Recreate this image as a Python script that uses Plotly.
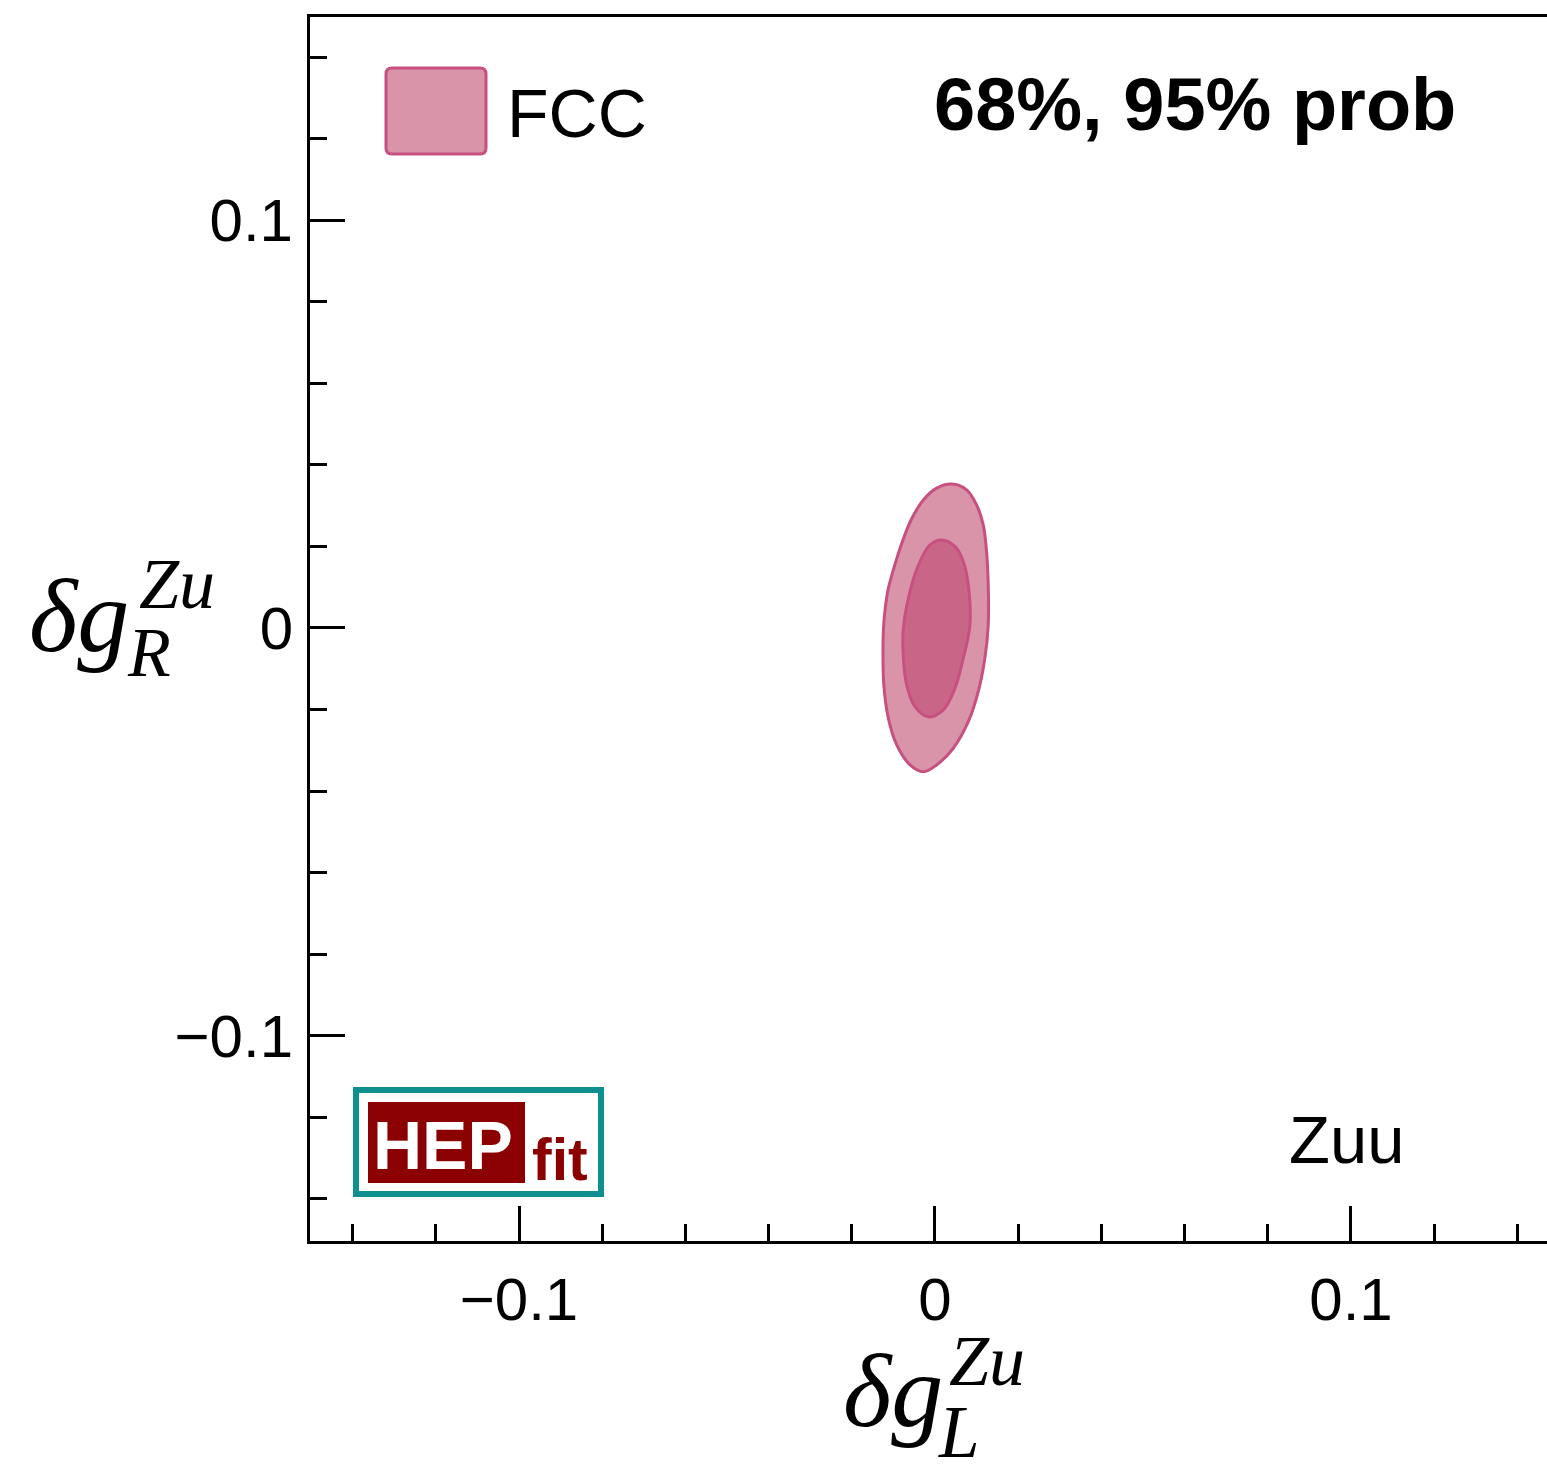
import plotly.graph_objects as go

# ---- data ----
outer_x = [0.0128, 0.0120, 0.0104, 0.0080, 0.0044, 0.0004, -0.0028, -0.0060, -0.0092, -0.0112,
           -0.0123, -0.0125, -0.0124, -0.0120, -0.0113, -0.0098, -0.0077, -0.0056, -0.0028, 0.0004,
           0.0040, 0.0076, 0.0100, 0.0116, 0.0124, 0.0128]
outer_y = [0.0007, -0.0074, -0.0156, -0.0230, -0.0295, -0.0336, -0.0353, -0.0336, -0.0287, -0.0222,
           -0.0140, -0.0058, -0.0005, 0.0045, 0.0093, 0.0150, 0.0216, 0.0268, 0.0314, 0.0343,
           0.0353, 0.0339, 0.0302, 0.0253, 0.0187, 0.0106]
inner_x = [0.0084, 0.0068, 0.0048, 0.0020, -0.0016, -0.0048, -0.0068, -0.0076, -0.0076, -0.0056,
           -0.0036, -0.0012, 0.0016, 0.0048, 0.0068, 0.0080]
inner_y = [0.0007, -0.0074, -0.0148, -0.0201, -0.0218, -0.0193, -0.0140, -0.0074, 0.0000, 0.0106,
           0.0163, 0.0204, 0.0216, 0.0200, 0.0163, 0.0106]
x_range = [-0.15024, 0.14712]
y_range = [-0.1504, 0.1499]
legend_label = "FCC"
prob_label = "68%, 95% prob"
corner_label = "Zuu"

W, H = 1547, 1465
L, R, T, B = 310, 0, 17, 224
PW, PH = W - L - R, H - T - B

def px(x):
    return (x - L) / PW

def py(y):
    return (H - B - y) / PH

OUT_FILL = "#d994a9"
IN_FILL = "#c96688"
EDGE = "#c85080"

fig = go.Figure()
fig.add_trace(go.Scatter(x=outer_x + outer_x[:1], y=outer_y + outer_y[:1], mode="lines",
                         fill="toself", fillcolor=OUT_FILL,
                         line=dict(color=EDGE, width=3, shape="spline", smoothing=1.0),
                         showlegend=False, hoverinfo="skip"))
fig.add_trace(go.Scatter(x=inner_x + inner_x[:1], y=inner_y + inner_y[:1], mode="lines",
                         fill="toself", fillcolor=IN_FILL,
                         line=dict(color=EDGE, width=3, shape="spline", smoothing=1.0),
                         showlegend=False, hoverinfo="skip"))

tickfont = dict(family="Liberation Sans, Arial, sans-serif", size=60, color="black")
fig.update_xaxes(range=x_range, dtick=0.1, tick0=0, ticks="inside", ticklen=35, tickwidth=3,
                 tickcolor="black", showline=True, linecolor="black", linewidth=3, mirror=True,
                 showgrid=False, zeroline=False, tickfont=tickfont, ticklabelstandoff=4,
                 minor=dict(dtick=0.02, tick0=0, ticks="inside", ticklen=17, tickwidth=3,
                            tickcolor="black", showgrid=False))
fig.update_yaxes(range=y_range, dtick=0.1, tick0=0, ticks="inside", ticklen=35, tickwidth=3,
                 tickcolor="black", showline=True, linecolor="black", linewidth=3, mirror=False,
                 showgrid=False, zeroline=False, tickfont=tickfont, ticklabelstandoff=2,
                 minor=dict(dtick=0.02, tick0=0, ticks="inside", ticklen=17, tickwidth=3,
                            tickcolor="black", showgrid=False))

shapes = []
# legend swatch with rounded corners
x0, x1, y0, y1, r = 386, 486, 68, 154, 6
path = (f"M {px(x0+r)},{py(y0)} L {px(x1-r)},{py(y0)} Q {px(x1)},{py(y0)} {px(x1)},{py(y0+r)} "
        f"L {px(x1)},{py(y1-r)} Q {px(x1)},{py(y1)} {px(x1-r)},{py(y1)} "
        f"L {px(x0+r)},{py(y1)} Q {px(x0)},{py(y1)} {px(x0)},{py(y1-r)} "
        f"L {px(x0)},{py(y0+r)} Q {px(x0)},{py(y0)} {px(x0+r)},{py(y0)} Z")
shapes.append(dict(type="path", xref="paper", yref="paper", path=path,
                   fillcolor=OUT_FILL, line=dict(color=EDGE, width=3)))
# HEPfit logo
shapes.append(dict(type="rect", xref="paper", yref="paper", x0=px(356), x1=px(601), y0=py(1194), y1=py(1090),
                   fillcolor="white", line=dict(color="#0f9090", width=6)))
shapes.append(dict(type="rect", xref="paper", yref="paper", x0=px(368), x1=px(525), y0=py(1183), y1=py(1102),
                   fillcolor="#8b0000", line=dict(width=0)))

sans = "Liberation Sans, Arial, sans-serif"
serif = "Liberation Serif, Times New Roman, serif"
ann = []
def add(text, x, y, size, family, color="black", xanchor="left", yanchor="middle", height=None):
    a = dict(text=text, x=px(x), y=py(y), xref="paper", yref="paper", showarrow=False,
             xanchor=xanchor, yanchor=yanchor, font=dict(family=family, size=size, color=color),
             borderpad=0)
    if height is not None:
        a["height"] = height
        a["valign"] = "middle"
    ann.append(a)

add(legend_label, 506, 113, 68, sans)
add(f"<b>{prob_label}</b>", 933, 105, 74, sans)
add(corner_label, 1288, 1139, 67, sans)
add("<b>HEP</b>", 372, 1145, 68, sans, color="white")
add("<b>fit</b>", 531, 1160, 59, sans, color="#8b0000")

# y-axis title
add("<i>δg</i>", 28, 615, 104, serif)
add("<i>Zu</i>", 138, 584, 72, serif, height=56)
add("<i>R</i>", 126, 652, 70, serif, height=52)
# x-axis title
add("<i>δg</i>", 842, 1390, 104, serif)
add("<i>Zu</i>", 948, 1361, 72, serif, height=56)
add("<i>L</i>", 937, 1432, 73, serif, height=56)

fig.update_layout(width=W, height=H, margin=dict(l=L, r=R, t=T, b=B),
                  plot_bgcolor="white", paper_bgcolor="white",
                  shapes=shapes, annotations=ann, showlegend=False)

fig.write_html("out.html")
